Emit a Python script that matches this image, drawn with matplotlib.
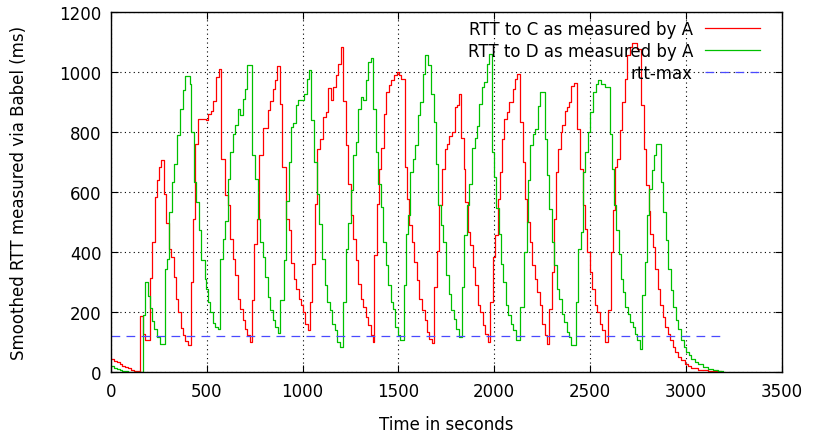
import matplotlib.pyplot as plt

# RTT to C (red), step vertices: time (s), smoothed rtt (ms)
t_c = [0, 15, 30, 45, 60, 75, 90, 105, 120, 135, 150,
       153, 165, 176, 202, 214, 228, 240, 250, 263, 275, 288, 302, 315, 327, 339, 351, 363, 376, 388, 402,
       416, 428, 440, 452, 495, 504, 522, 534, 548, 562, 574, 597, 612, 623, 635, 647, 661, 673, 687, 699,
       711, 723, 735, 748, 760, 774, 791, 817, 831, 843, 855, 868, 882, 895, 915, 927, 939, 953, 965, 979,
       991, 1003, 1014, 1028, 1036, 1050, 1064, 1077, 1090, 1106, 1120, 1134, 1146, 1160, 1172, 1184, 1198,
       1212, 1228, 1238, 1250, 1264, 1276, 1289, 1303, 1315, 1329, 1341, 1355, 1367, 1372, 1386, 1398, 1410,
       1424, 1436, 1450, 1463, 1477, 1490, 1503, 1515, 1532, 1544, 1556, 1570, 1582, 1596, 1608, 1622, 1636,
       1648, 1661, 1675, 1688, 1701, 1713, 1727, 1741, 1753, 1765, 1779, 1793, 1805, 1817, 1828, 1841, 1848,
       1862, 1875, 1887, 1901, 1913, 1927, 1939, 1953, 1965, 1979, 1991, 2005, 2019, 2031, 2038, 2050, 2064,
       2076, 2099, 2108, 2120, 2134, 2148, 2160, 2172, 2186, 2198, 2210, 2224, 2238, 2250, 2264, 2276, 2287,
       2299, 2311, 2322, 2334, 2346, 2356, 2369, 2381, 2391, 2403, 2415, 2433, 2447, 2461, 2473, 2485, 2499,
       2511, 2525, 2537, 2550, 2562, 2576, 2593, 2607, 2619, 2631, 2642, 2654, 2666, 2680, 2692, 2706, 2720,
       2745, 2767, 2779, 2793, 2805, 2815, 2828, 2840, 2854, 2866, 2880, 2892, 2906, 2918, 2932, 2944, 2958,
       2975, 2993, 3010, 3028, 3062, 3115, 3167, 3185]
rtt_c = [45, 38, 32, 26, 21, 16, 12, 8, 5, 3, 1,
         187, 128, 108, 314, 433, 583, 639, 683, 708, 594, 497, 411, 383, 316, 244, 200, 146, 124, 102, 89,
         300, 511, 761, 842, 841, 860, 869, 902, 983, 1011, 711, 591, 556, 444, 376, 322, 242, 211, 172, 142,
         122, 100, 239, 428, 511, 722, 813, 874, 902, 944, 972, 1020, 895, 683, 511, 472, 364, 311, 278, 244,
         224, 200, 161, 139, 233, 361, 561, 744, 778, 850, 867, 947, 906, 950, 991, 1026, 1083,
         902, 756, 628, 522, 444, 372, 294, 244, 217, 183, 156, 124, 100, 389, 561, 678, 747,
         861, 933, 958, 972, 989, 1000, 991, 978, 683, 578, 489, 433, 367, 306, 244, 206, 172,
         133, 111, 98, 283, 402, 556, 678, 744, 761, 786, 800, 883, 891, 928, 780, 678, 567,
         467, 422, 350, 289, 222, 200, 156, 128, 100, 233, 383, 456, 578, 667, 778, 844, 867,
         900, 944, 978, 994, 833, 700, 578, 500, 433, 356, 311, 267, 222, 161, 122, 94, 211,
         333, 511, 667, 744, 800, 824, 869, 883, 900, 953, 964, 811, 678, 556, 478, 400, 333,
         278, 222, 200, 161, 139, 100, 206, 400, 539, 683, 711, 806, 900, 978, 1056, 1083, 1098,
         1077, 889, 744, 622, 536, 461, 417, 344, 278, 222, 183, 150, 128, 106, 83, 67, 50,
         39, 28, 20, 13, 8, 3, 2, 2]

# RTT to D (green)
t_d = [0, 15, 30, 45, 60, 75, 90, 110,
       169, 180, 194, 205, 215, 225, 240, 255, 280, 292, 305, 318, 330, 345, 360, 375, 388, 410, 419, 433,
       445, 459, 471, 489, 496, 504, 517, 530, 544, 556, 569, 582, 595, 609, 621, 635, 647, 661, 673, 687,
       699, 711, 735, 753, 765, 777, 791, 805, 817, 831, 843, 855, 869, 882, 901, 913, 927, 939, 951, 965,
       977, 1007, 1021, 1033, 1045, 1059, 1073, 1087, 1103, 1117, 1129, 1143, 1155, 1167, 1181, 1195,
       1212, 1224, 1238, 1250, 1263, 1276, 1289, 1303, 1315, 1329, 1341, 1355, 1369, 1381, 1393, 1407,
       1421, 1433, 1445, 1459, 1471, 1483, 1496, 1508, 1527, 1539, 1549, 1561, 1575, 1588, 1600, 1614,
       1626, 1640, 1654, 1671, 1683, 1695, 1709, 1723, 1735, 1748, 1762, 1775, 1788, 1800, 1814, 1831,
       1843, 1857, 1869, 1883, 1897, 1909, 1921, 1935, 1948, 1962, 1974, 1988, 1998, 2010, 2023, 2036,
       2047, 2061, 2073, 2085, 2099, 2113, 2134, 2155, 2169, 2177, 2189, 2203, 2215, 2226, 2238, 2264,
       2276, 2287, 2299, 2311, 2325, 2339, 2351, 2365, 2377, 2391, 2403, 2426, 2438, 2450, 2464, 2476,
       2490, 2502, 2516, 2529, 2541, 2558, 2579, 2602, 2614, 2624, 2636, 2649, 2659, 2671, 2683, 2697,
       2709, 2723, 2735, 2746, 2758, 2772, 2784, 2798, 2810, 2822, 2833, 2845, 2868, 2880, 2897, 2909,
       2923, 2935, 2949, 2961, 2975, 2988, 3001, 3014, 3028, 3045, 3062, 3088, 3115, 3141, 3167, 3193]
rtt_d = [20, 15, 11, 8, 5, 3, 1, 0,
         190, 301, 252, 212, 171, 143, 117, 92, 344, 376, 533, 633, 694, 789, 878, 939, 987, 961, 800, 633,
         567, 472, 372, 311, 278, 233, 200, 164, 150, 144, 376, 442, 502, 644, 733, 792, 824, 878, 858, 909,
         944, 1024, 722, 644, 511, 433, 383, 317, 250, 206, 172, 150, 130, 239, 372, 569, 700, 817, 831, 889,
         906, 928, 978, 1006, 839, 700, 594, 494, 378, 289, 233, 206, 161, 139, 100, 83,
         233, 411, 498, 606, 724, 767, 878, 917, 906, 972, 1033, 1047, 878, 733, 628, 550,
         433, 356, 289, 233, 211, 150, 122, 106, 289, 461, 522, 667, 711, 756, 858, 900,
         994, 1056, 1022, 928, 833, 694, 558, 489, 433, 322, 261, 206, 178, 144, 117, 283,
         456, 556, 628, 747, 780, 820, 894, 950, 967, 1028, 1060, 733, 650, 547, 461, 361,
         300, 222, 189, 161, 139, 106, 217, 400, 500, 639, 756, 794, 811, 887, 933, 778,
         656, 544, 433, 356, 278, 244, 194, 167, 133, 117, 89, 233, 411, 467, 667, 733,
         800, 867, 933, 961, 972, 961, 950, 794, 678, 556, 472, 394, 311, 267, 217, 194,
         167, 150, 128, 106, 78, 256, 367, 522, 611, 672, 722, 761, 633, 533, 439, 344,
         272, 217, 172, 144, 106, 83, 67, 56, 44, 33, 26, 18, 11, 7, 4, 4]

rtt_max = 120
rtt_max_span = [0, 3200]

plt.rcParams["font.family"] = "DejaVu Sans"
fig = plt.figure(figsize=(8.16, 4.35), dpi=100)
ax = fig.add_axes([0.136, 0.1425, 0.822, 0.8275])

ax.step(t_c, rtt_c, where="post", color="#ff0000", lw=0.9,
        label="RTT to C as measured by A")
ax.step(t_d, rtt_d, where="post", color="#00c000", lw=0.9,
        label="RTT to D as measured by A")
ax.plot(rtt_max_span, [rtt_max, rtt_max], color="#4a4aff", lw=0.9,
        dashes=(7, 5), label="rtt-max")

ax.set_xlim(0, 3500)
ax.set_ylim(0, 1200)
ax.set_xticks(range(0, 3501, 500))
ax.set_yticks(range(0, 1201, 200))
ax.grid(True, color="black", linestyle=(0, (1, 3)), lw=0.8)
ax.tick_params(direction="in", top=True, right=True, labelsize=12, length=5, pad=7)
for sp in ax.spines.values():
    sp.set_linewidth(1.0)

ax.set_xlabel("Time in seconds", fontsize=12, labelpad=11)
ax.set_ylabel("Smoothed RTT measured via Babel (ms)", fontsize=12, labelpad=22)

leg = ax.legend(loc="upper right", bbox_to_anchor=(0.977, 0.997), frameon=False,
                fontsize=12, markerfirst=False, handlelength=3.3,
                handletextpad=0.7, labelspacing=0.25, borderaxespad=0.0)
for txt in leg.get_texts():
    txt.set_ha("right")
leg._legend_box.align = "right"

fig.savefig("out.png", dpi=100)
